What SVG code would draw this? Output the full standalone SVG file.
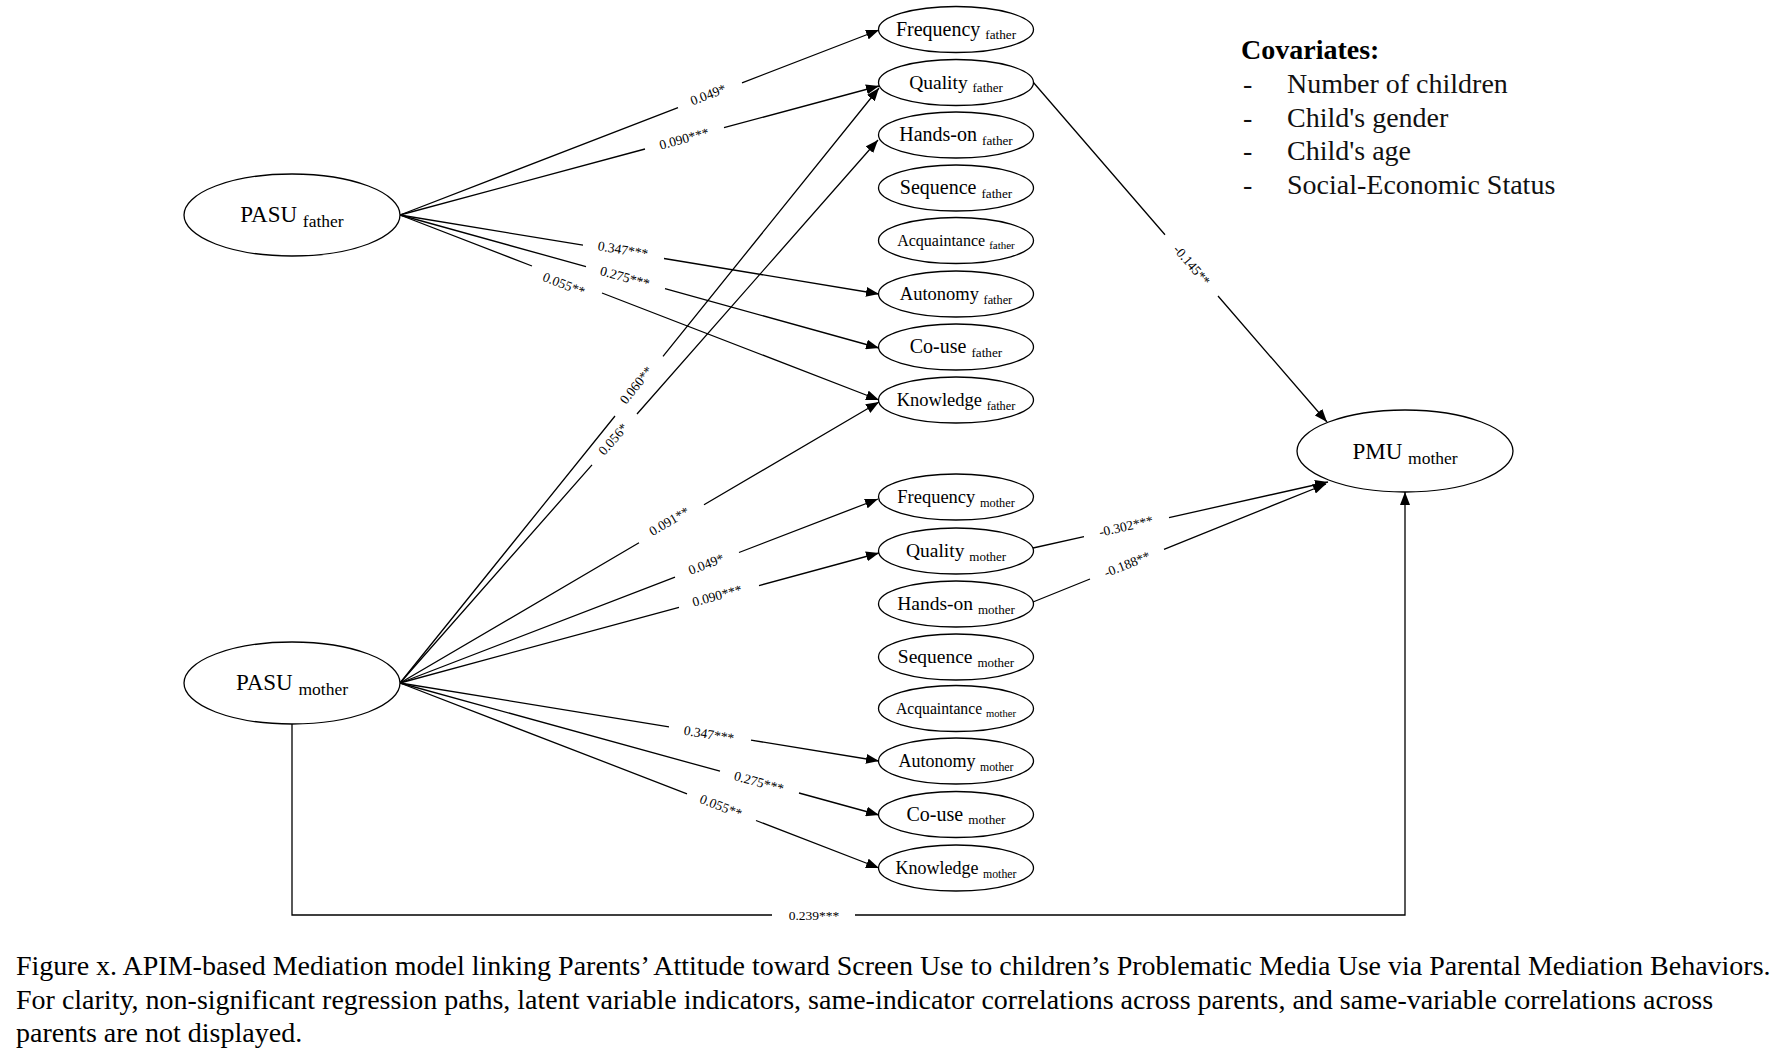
<svg xmlns="http://www.w3.org/2000/svg" width="1785" height="1052" viewBox="0 0 1785 1052">
<defs>
<marker id="ah" markerWidth="13" markerHeight="10" refX="13" refY="5" orient="auto" markerUnits="userSpaceOnUse"><path d="M0,0 L13,5 L0,10 z" fill="#000"/></marker>
<style>
text{font-family:"Liberation Serif","Times New Roman",serif;fill:#000}
.n ellipse{fill:#fff;stroke:#000;stroke-width:1.3}
.n text{text-anchor:middle}
#edges path{fill:none;stroke:#000;stroke-width:1.3}
.el{font-size:13.5px;text-anchor:middle}
.cov{font-size:28px;fill:#111}
.cap{font-size:28px}
</style>
</defs>
<rect width="1785" height="1052" fill="#fff"/>

<g id="edges">
<path d="M400,215 L678,107.6 M742,82.9 L879,30" marker-end="url(#ah)"/>
<path d="M400,215 L645,149 M724,127.7 L879,86" marker-end="url(#ah)"/>
<path d="M400,215 L583,245.2 M664,258.5 L879,294" marker-end="url(#ah)"/>
<path d="M400,215 L586,266.6 M665,288.6 L879,348" marker-end="url(#ah)"/>
<path d="M400,215 L532,266 M602,293 L879,400" marker-end="url(#ah)"/>
<path d="M400,683 L675,577.1 M739,552.5 L878,499" marker-end="url(#ah)"/>
<path d="M400,683 L679,607.3 M759,585.6 L879,553" marker-end="url(#ah)"/>
<path d="M400,683 L669,726.8 M751,740.1 L879,761" marker-end="url(#ah)"/>
<path d="M400,683 L720,771.2 M799,793 L879,815" marker-end="url(#ah)"/>
<path d="M400,683 L687,793.8 M756,820.5 L879,868" marker-end="url(#ah)"/>
<path d="M400,683 L639,542.8 M704,504.7 L879,402" marker-end="url(#ah)"/>
<path d="M400,683 L615,416 M663,356.3 L879,88" marker-end="url(#ah)"/>
<path d="M400,683 L592,464.9 M637,414 L878,140" marker-end="url(#ah)"/>
<path d="M1033,82 L1165,234.7 M1218,296 L1327,422" marker-end="url(#ah)"/>
<path d="M1033,548 L1084,536.6 M1169,517.6 L1328,482" marker-end="url(#ah)"/>
<path d="M1033,602 L1090,579 M1164,549.3 L1326,484" marker-end="url(#ah)"/>
<path d="M292,724 L292,915 L772,915 M855,915 L1405,915 L1405,492" marker-end="url(#ah)"/>
<text class="el" transform="translate(708,94.5) rotate(-21.1)" dy="0.35em">0.049*</text>
<text class="el" transform="translate(684,138.5) rotate(-15.1)" dy="0.35em">0.090***</text>
<text class="el" transform="translate(623,249.5) rotate(9.4)" dy="0.35em">0.347***</text>
<text class="el" transform="translate(625,277) rotate(15.5)" dy="0.35em">0.275***</text>
<text class="el" transform="translate(564,284) rotate(21.1)" dy="0.35em">0.055**</text>
<text class="el" transform="translate(706,564) rotate(-21.05)" dy="0.35em">0.049*</text>
<text class="el" transform="translate(717,595.5) rotate(-15.2)" dy="0.35em">0.090***</text>
<text class="el" transform="translate(709,734) rotate(9.25)" dy="0.35em">0.347***</text>
<text class="el" transform="translate(759,782) rotate(15.4)" dy="0.35em">0.275***</text>
<text class="el" transform="translate(721,806) rotate(21.1)" dy="0.35em">0.055**</text>
<text class="el" transform="translate(669,521) rotate(-30.4)" dy="0.35em">0.091**</text>
<text class="el" transform="translate(636,385) rotate(-51.2)" dy="0.35em">0.060**</text>
<text class="el" transform="translate(613,439) rotate(-48.6)" dy="0.35em">0.056*</text>
<text class="el" transform="translate(1192,265) rotate(49.15)" dy="0.35em">-0.145**</text>
<text class="el" transform="translate(1126,526) rotate(-12.6)" dy="0.35em">-0.302***</text>
<text class="el" transform="translate(1127,564) rotate(-21.9)" dy="0.35em">-0.188**</text>
<text class="el" transform="translate(814,915)" dy="0.35em">0.239***</text>
</g>

<g id="pasu_father" class="n"><ellipse cx="292" cy="215" rx="108" ry="41"/><text x="292" y="222" font-size="23">PASU <tspan font-size="17.5" dy="5">father</tspan></text></g>
<g id="pasu_mother" class="n"><ellipse cx="292" cy="683" rx="108" ry="41"/><text x="292" y="690" font-size="23">PASU <tspan font-size="17.5" dy="5">mother</tspan></text></g>
<g id="pmu_mother" class="n"><ellipse cx="1405" cy="451" rx="108" ry="41"/><text x="1405" y="459" font-size="23">PMU <tspan font-size="17.5" dy="5">mother</tspan></text></g>

<g id="frequency_father" class="n"><ellipse cx="956" cy="29.5" rx="77.5" ry="23"/><text x="956" y="35.5" font-size="20">Frequency <tspan font-size="13.2" dy="3.5">father</tspan></text></g>
<g id="quality_father" class="n"><ellipse cx="956" cy="82.5" rx="77.5" ry="23"/><text x="956" y="88.5" font-size="19.5">Quality <tspan font-size="13" dy="3.5">father</tspan></text></g>
<g id="handson_father" class="n"><ellipse cx="956" cy="135" rx="77.5" ry="23"/><text x="956" y="141" font-size="20">Hands-on <tspan font-size="13.2" dy="3.5">father</tspan></text></g>
<g id="sequence_father" class="n"><ellipse cx="956" cy="188" rx="77.5" ry="23"/><text x="956" y="194" font-size="20">Sequence <tspan font-size="13.2" dy="3.5">father</tspan></text></g>
<g id="acquaintance_father" class="n"><ellipse cx="956" cy="240.5" rx="77.5" ry="23"/><text x="956" y="245.5" font-size="16">Acquaintance <tspan font-size="11" dy="3">father</tspan></text></g>
<g id="autonomy_father" class="n"><ellipse cx="956" cy="294" rx="77.5" ry="23"/><text x="956" y="300" font-size="18.5">Autonomy <tspan font-size="12.3" dy="3.5">father</tspan></text></g>
<g id="couse_father" class="n"><ellipse cx="956" cy="347" rx="77.5" ry="23"/><text x="956" y="353" font-size="20">Co-use <tspan font-size="13.2" dy="3.5">father</tspan></text></g>
<g id="knowledge_father" class="n"><ellipse cx="956" cy="400" rx="77.5" ry="23"/><text x="956" y="406" font-size="18.5">Knowledge <tspan font-size="12.3" dy="3.5">father</tspan></text></g>

<g id="frequency_mother" class="n"><ellipse cx="956" cy="497" rx="77.5" ry="23"/><text x="956" y="503" font-size="18.5">Frequency <tspan font-size="12.3" dy="3.5">mother</tspan></text></g>
<g id="quality_mother" class="n"><ellipse cx="956" cy="551" rx="77.5" ry="23"/><text x="956" y="557" font-size="19.5">Quality <tspan font-size="13" dy="3.5">mother</tspan></text></g>
<g id="handson_mother" class="n"><ellipse cx="956" cy="604" rx="77.5" ry="23"/><text x="956" y="610" font-size="19.5">Hands-on <tspan font-size="13" dy="3.5">mother</tspan></text></g>
<g id="sequence_mother" class="n"><ellipse cx="956" cy="657" rx="77.5" ry="23"/><text x="956" y="663" font-size="19.5">Sequence <tspan font-size="13" dy="3.5">mother</tspan></text></g>
<g id="acquaintance_mother" class="n"><ellipse cx="956" cy="708.5" rx="77.5" ry="23"/><text x="956" y="713.5" font-size="15.7">Acquaintance <tspan font-size="10.6" dy="3">mother</tspan></text></g>
<g id="autonomy_mother" class="n"><ellipse cx="956" cy="761" rx="77.5" ry="23"/><text x="956" y="767" font-size="18">Autonomy <tspan font-size="11.8" dy="3.5">mother</tspan></text></g>
<g id="couse_mother" class="n"><ellipse cx="956" cy="814.5" rx="77.5" ry="23"/><text x="956" y="820.5" font-size="20">Co-use <tspan font-size="13.2" dy="3.5">mother</tspan></text></g>
<g id="knowledge_mother" class="n"><ellipse cx="956" cy="868" rx="77.5" ry="23"/><text x="956" y="874" font-size="18">Knowledge <tspan font-size="11.8" dy="3.5">mother</tspan></text></g>

<g id="covariates">
<text class="cov" x="1241" y="59" font-weight="bold" style="fill:#000">Covariates:</text>
<text class="cov" x="1243" y="93">-</text><text class="cov" x="1287" y="93">Number of children</text>
<text class="cov" x="1243" y="126.5">-</text><text class="cov" x="1287" y="126.5">Child's gender</text>
<text class="cov" x="1243" y="160">-</text><text class="cov" x="1287" y="160">Child's age</text>
<text class="cov" x="1243" y="193.5">-</text><text class="cov" x="1287" y="193.5">Social-Economic Status</text>
</g>

<g id="caption">
<text class="cap" x="16" y="975">Figure x. APIM-based Mediation model linking Parents’ Attitude toward Screen Use to children’s Problematic Media Use via Parental Mediation Behaviors.</text>
<text class="cap" x="16" y="1009">For clarity, non-significant regression paths, latent variable indicators, same-indicator correlations across parents, and same-variable correlations across</text>
<text class="cap" x="16" y="1042">parents are not displayed.</text>
</g>
</svg>
